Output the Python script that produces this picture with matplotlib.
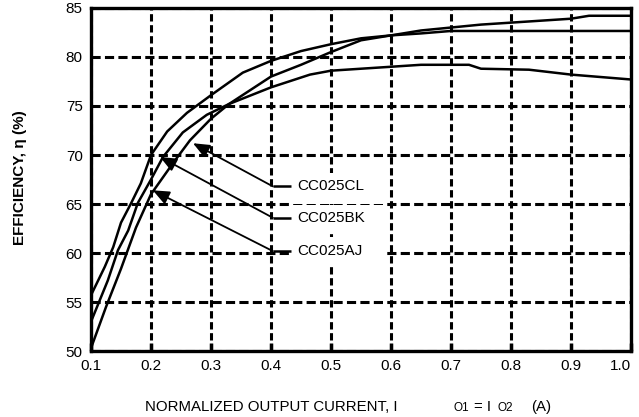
import matplotlib
matplotlib.use("Agg")
import matplotlib.pyplot as plt
from matplotlib.patches import Rectangle

plt.rcParams['font.family'] = ['Liberation Sans', 'DejaVu Sans']

# efficiency curves
x_a = [0.1, 0.123, 0.137, 0.15, 0.167, 0.183, 0.2, 0.227, 0.26, 0.3, 0.353, 0.4,
       0.45, 0.5, 0.55, 0.6, 0.65, 0.7, 0.8, 0.9, 1.0]
eff_a = [55.7, 58.6, 60.6, 63.1, 65.1, 67.1, 70.0, 72.4, 74.3, 76.1, 78.4, 79.6,
         80.6, 81.3, 81.9, 82.2, 82.4, 82.65, 82.65, 82.65, 82.65]

x_b = [0.1, 0.128, 0.145, 0.162, 0.178, 0.2, 0.22, 0.253, 0.293, 0.33, 0.4, 0.465,
       0.5, 0.6, 0.65, 0.73, 0.75, 0.83, 0.9, 1.0]
eff_b = [53.0, 57.2, 60.3, 62.3, 65.1, 67.5, 69.8, 72.3, 74.1, 75.2, 76.9, 78.2,
         78.6, 79.0, 79.2, 79.2, 78.8, 78.7, 78.2, 77.7]

x_c = [0.1, 0.125, 0.15, 0.175, 0.2, 0.237, 0.265, 0.3, 0.33, 0.4, 0.45, 0.5,
       0.55, 0.6, 0.65, 0.7, 0.75, 0.8, 0.9, 0.93, 1.0]
eff_c = [50.3, 54.5, 58.4, 62.6, 66.0, 69.2, 71.5, 73.7, 75.2, 78.0, 79.2, 80.5,
         81.7, 82.2, 82.7, 83.0, 83.3, 83.5, 83.9, 84.2, 84.2]

# part labels and where their arrows point
labels = ['CC025CL', 'CC025BK', 'CC025AJ']
label_y = [66.8, 63.6, 60.2]
arrow_tip = [(0.27, 71.2), (0.215, 69.8), (0.203, 66.4)]

x_ticks = [0.1, 0.2, 0.3, 0.4, 0.5, 0.6, 0.7, 0.8, 0.9, 1.0]
y_ticks = [50, 55, 60, 65, 70, 75, 80, 85]

fig = plt.figure(figsize=(6.39, 4.17), dpi=100)
ax = fig.add_axes([0.1424, 0.158, 0.8451, 0.823])

ax.set_xlim(0.1, 1.0)
ax.set_ylim(50, 85)
ax.set_xticks(x_ticks)
ax.set_yticks(y_ticks)
ax.set_xticklabels(['%.1f' % v for v in x_ticks])
ax.tick_params(axis='both', labelsize=11, length=0, pad=6)
ax.tick_params(axis='x', direction='in', length=6, width=2.5, pad=6)
ax.get_xticklabels()[-1].set_horizontalalignment('right')

ax.xaxis.grid(True, color='black', lw=2.2, linestyle=(0, (2.4, 1.2)))
ax.yaxis.grid(True, color='black', lw=2.2, linestyle=(0, (3.0, 1.4)))
ax.set_axisbelow(True)
for s in ax.spines.values():
    s.set_linewidth(2.4)

# white boxes behind labels
boxes = [(65.0, 68.2), (62.2, 64.88), (58.8, 61.6)]
for y0, y1 in boxes:
    ax.add_patch(Rectangle((0.437, y0), 0.153, y1 - y0, facecolor='white',
                           edgecolor='none', zorder=1.5))

for xs, ys in [(x_a, eff_a), (x_b, eff_b), (x_c, eff_c)]:
    ax.plot(xs, ys, color='black', lw=1.8, zorder=3)

for name, ly, tip in zip(labels, label_y, arrow_tip):
    ax.plot([0.403, 0.434], [ly, ly], color='black', lw=1.8, zorder=3,
            solid_capstyle='butt')
    ax.annotate('', xy=tip, xytext=(0.403, ly),
                arrowprops=dict(arrowstyle='-|>,head_length=1.0,head_width=0.42',
                                color='black', lw=1.3, shrinkA=0, shrinkB=0),
                zorder=4)
    ax.text(0.443, ly, name, fontsize=11, va='center', ha='left', zorder=4)

fig.text(0.031, 0.573, 'EFFICIENCY, η (%)', rotation=90, fontsize=11,
         fontweight='bold', ha='center', va='center')

fig.text(145 / 639, 1 - 407 / 417, 'NORMALIZED OUTPUT CURRENT, I', fontsize=10.8,
         ha='left', va='center')
fig.text(454 / 639, 1 - 408 / 417, 'O1', fontsize=8.5, ha='left', va='center')
fig.text(474 / 639, 1 - 407 / 417, '= I', fontsize=10.8, ha='left', va='center')
fig.text(498 / 639, 1 - 408 / 417, 'O2', fontsize=8.5, ha='left', va='center')
fig.text(531 / 639, 1 - 407 / 417, '(A)', fontsize=10.8, ha='left', va='center')

fig.savefig('out.png', dpi=100)
